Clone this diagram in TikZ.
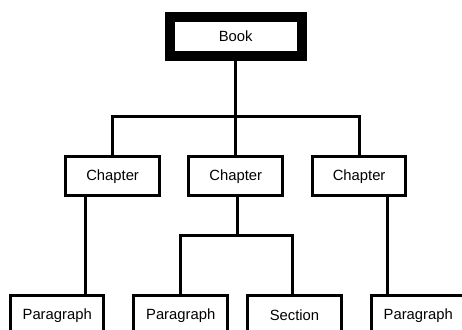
\documentclass[tikz,border=0pt]{standalone}
\usepackage{fontspec}
\setmainfont{Liberation Sans}
\begin{document}
\begin{tikzpicture}[x=1pt,y=-1pt,
  box/.style={draw=black, fill=white, line width=3pt, inner sep=0pt, outer sep=0pt,
    minimum width=93.5pt, minimum height=39.3pt,
    font=\fontsize{14.8}{17}\selectfont},
  rootbox/.style={box, line width=10pt, minimum width=132pt, minimum height=39.5pt},
  link/.style={line width=3pt, draw=black}]
\clip (0,0) rectangle (462,329);
\fill[white] (0,0) rectangle (462,329);

% tree nodes
\node[rootbox] (book) at (235.7,36.5) {Book};
\node[box] (ch1) at (112.6,176.2) {Chapter};
\node[box] (ch2) at (235.7,176.2) {Chapter};
\node[box] (ch3) at (359.1,176.2) {Chapter};
\node[box] (p1) at (57.2,315.2) {Paragraph};
\node[box] (p2) at (180.7,315.2) {Paragraph};
\node[box] (sec) at (294.5,315.2) {Section};
\node[box] (p3) at (418.2,315.2) {Paragraph};

% branch levels and off-centre drop lines
\coordinate (bar1) at (0,116);
\coordinate (bar2) at (0,235);
\coordinate (d1) at (85,0);
\coordinate (d2) at (237.3,0);
\coordinate (d3) at (387.7,0);
\coordinate (d4) at (292.7,0);

% book to chapters
\draw[link] (book.south) -- (book.south |- ch2.north);
\draw[link] (ch1.north) -- (ch1.north |- bar1) -- (ch3.north |- bar1) -- (ch3.north);

% chapters to lower level
\draw[link] (d1 |- ch1.south) -- (d1 |- p1.north);
\draw[link] (d2 |- ch2.south) -- (d2 |- bar2);
\draw[link] (p2.north) -- (p2.north |- bar2) -- (d4 |- bar2) -- (d4 |- sec.north);
\draw[link] (d3 |- ch3.south) -- (d3 |- p3.north);
\end{tikzpicture}
\end{document}
